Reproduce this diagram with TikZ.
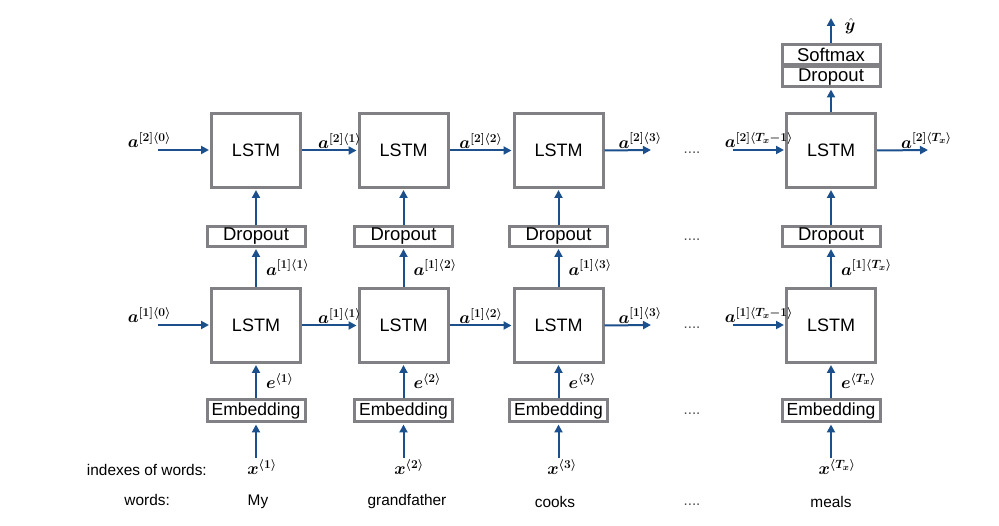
\documentclass[tikz,border=0pt]{standalone}
\usepackage{fontspec}
\setmainfont{Liberation Sans}
\usepackage{amsmath}
\usepackage{bm}
\DeclareMathSizes{19}{19}{11.5}{9}
\usetikzlibrary{arrows.meta}
\definecolor{boxgray}{RGB}{128,128,133}
\definecolor{arrblue}{RGB}{28,80,140}
\tikzset{
  lstm/.style={draw=boxgray, line width=3pt, minimum width=89pt, minimum height=74pt, inner sep=0pt, font=\fontsize{18}{20}\selectfont},
  smallbox/.style={draw=boxgray, line width=3pt, minimum width=98pt, minimum height=20pt, inner sep=0pt, font=\fontsize{18.5}{20}\selectfont},
  embbox/.style={smallbox, minimum height=22pt, font=\fontsize{17.5}{19}\selectfont},
  arr/.style={draw=arrblue, line width=2pt, -{Triangle[length=8pt,width=8pt]}, shorten >=1pt},
  lbl/.style={inner sep=1pt, font=\fontsize{19}{21}\selectfont},
  txt/.style={inner sep=0pt, font=\fontsize{15.4}{17}\selectfont},
  dots/.style={inner sep=0pt, font=\fontsize{15}{16}\selectfont, text=black!70}
}
\begin{document}
\begin{tikzpicture}[x=1pt, y=-1pt]
\useasboundingbox (0,0) rectangle (999,526);
% columns
\foreach \n/\cx in {1/256, 2/403.5, 3/558.5, 4/831} {
  \node[lstm] (T\n) at (\cx,150.5) {LSTM};
  \node[lstm] (B\n) at (\cx,325.5) {LSTM};
  \node[smallbox] (D\n) at (\cx,236.5) {Dropout};
  \node[embbox] (E\n) at (\cx,411) {Embedding};
}
% top softmax/dropout
\node[smallbox] (DT) at (831,77) {Dropout};
\node[smallbox] (SM) at (831,54.5) {Softmax};
\coordinate (yend) at (831,17);
\node[lbl] (yhat) at (850,26) {$\bm{\hat{y}}$};
\draw[arr] (SM.north) -- (yend);
\draw[arr] (T4.north) -- (DT.south);

% x inputs
\node[lbl] (X1) at (262,467) {$\bm{x^{\langle 1\rangle}}$};
\node[lbl] (X2) at (409,467) {$\bm{x^{\langle 2\rangle}}$};
\node[lbl] (X3) at (562,467) {$\bm{x^{\langle 3\rangle}}$};
\node[lbl] (X4) at (837,467) {$\bm{x^{\langle T_x\rangle}}$};

\foreach \n in {1,2,3,4} {
  \draw[arr] (X\n.north -| E\n.south) -- (E\n.south);
  \draw[arr] (D\n.north) -- (T\n.south);
}
\draw[arr] (E1.north) -- (B1.south) node[midway, right=8pt, lbl] {$\bm{e^{\langle 1\rangle}}$};
\draw[arr] (E2.north) -- (B2.south) node[midway, right=8pt, lbl] {$\bm{e^{\langle 2\rangle}}$};
\draw[arr] (E3.north) -- (B3.south) node[midway, right=8pt, lbl] {$\bm{e^{\langle 3\rangle}}$};
\draw[arr] (E4.north) -- (B4.south) node[midway, right=8pt, lbl] {$\bm{e^{\langle T_x\rangle}}$};

\draw[arr] (B1.north) -- (D1.south) node[midway, right=8pt, lbl] {$\bm{a^{[1]\langle 1\rangle}}$};
\draw[arr] (B2.north) -- (D2.south) node[midway, right=8pt, lbl] {$\bm{a^{[1]\langle 2\rangle}}$};
\draw[arr] (B3.north) -- (D3.south) node[midway, right=8pt, lbl] {$\bm{a^{[1]\langle 3\rangle}}$};
\draw[arr] (B4.north) -- (D4.south) node[midway, right=8pt, lbl] {$\bm{a^{[1]\langle T_x\rangle}}$};

% horizontal arrows, top layer
\coordinate (T0) at (158,150);
\coordinate (T3e) at (652,150);
\coordinate (T4w) at (733,150);
\coordinate (T5) at (929,150);
\draw[arr] (T0) -- (T0 -| T1.west) node[pos=0, anchor=south east, xshift=15pt, lbl] {$\bm{a^{[2]\langle 0\rangle}}$};
\draw[arr] (T1.east) -- (T2.west) node[pos=0.68, above, lbl] {$\bm{a^{[2]\langle 1\rangle}}$};
\draw[arr] (T2.east) -- (T3.west) node[pos=0.5, above, lbl] {$\bm{a^{[2]\langle 2\rangle}}$};
\draw[arr] (T3.east) -- (T3e) node[pos=0.75, above, lbl] {$\bm{a^{[2]\langle 3\rangle}}$};
\draw[arr] (T4w) -- (T4w -| T4.west) node[pos=0.5, above, lbl] {$\bm{a^{[2]\langle T_x-1\rangle}}$};
\draw[arr] (T4.east) -- (T5) node[pos=0.95, above, lbl] {$\bm{a^{[2]\langle T_x\rangle}}$};

% horizontal arrows, bottom layer
\coordinate (B0) at (158,325);
\coordinate (B3e) at (652,325);
\coordinate (B4w) at (733,325);
\draw[arr] (B0) -- (B0 -| B1.west) node[pos=0, anchor=south east, xshift=15pt, lbl] {$\bm{a^{[1]\langle 0\rangle}}$};
\draw[arr] (B1.east) -- (B2.west) node[pos=0.68, above, lbl] {$\bm{a^{[1]\langle 1\rangle}}$};
\draw[arr] (B2.east) -- (B3.west) node[pos=0.5, above, lbl] {$\bm{a^{[1]\langle 2\rangle}}$};
\draw[arr] (B3.east) -- (B3e) node[pos=0.75, above, lbl] {$\bm{a^{[1]\langle 3\rangle}}$};
\draw[arr] (B4w) -- (B4w -| B4.west) node[pos=0.5, above, lbl] {$\bm{a^{[1]\langle T_x-1\rangle}}$};

% dots
\node[dots] (d1) at (692,153) {....};
\node[dots] (d2) at (692,240) {....};
\node[dots] (d3) at (692,328) {....};
\node[dots] (d4) at (692,414) {....};
\node[dots] (d5) at (692,505) {....};

% bottom texts
\node[txt, anchor=east] (idx) at (207,470) {indexes of words:};
\node[txt, anchor=east] (wds) at (170,500) {words:};
\node[txt] (w1) at (258,502) {My};
\node[txt] (w2) at (407,502) {grandfather};
\node[txt] (w3) at (555,502) {cooks};
\node[txt] (w4) at (831,502) {meals};
\end{tikzpicture}
\end{document}
